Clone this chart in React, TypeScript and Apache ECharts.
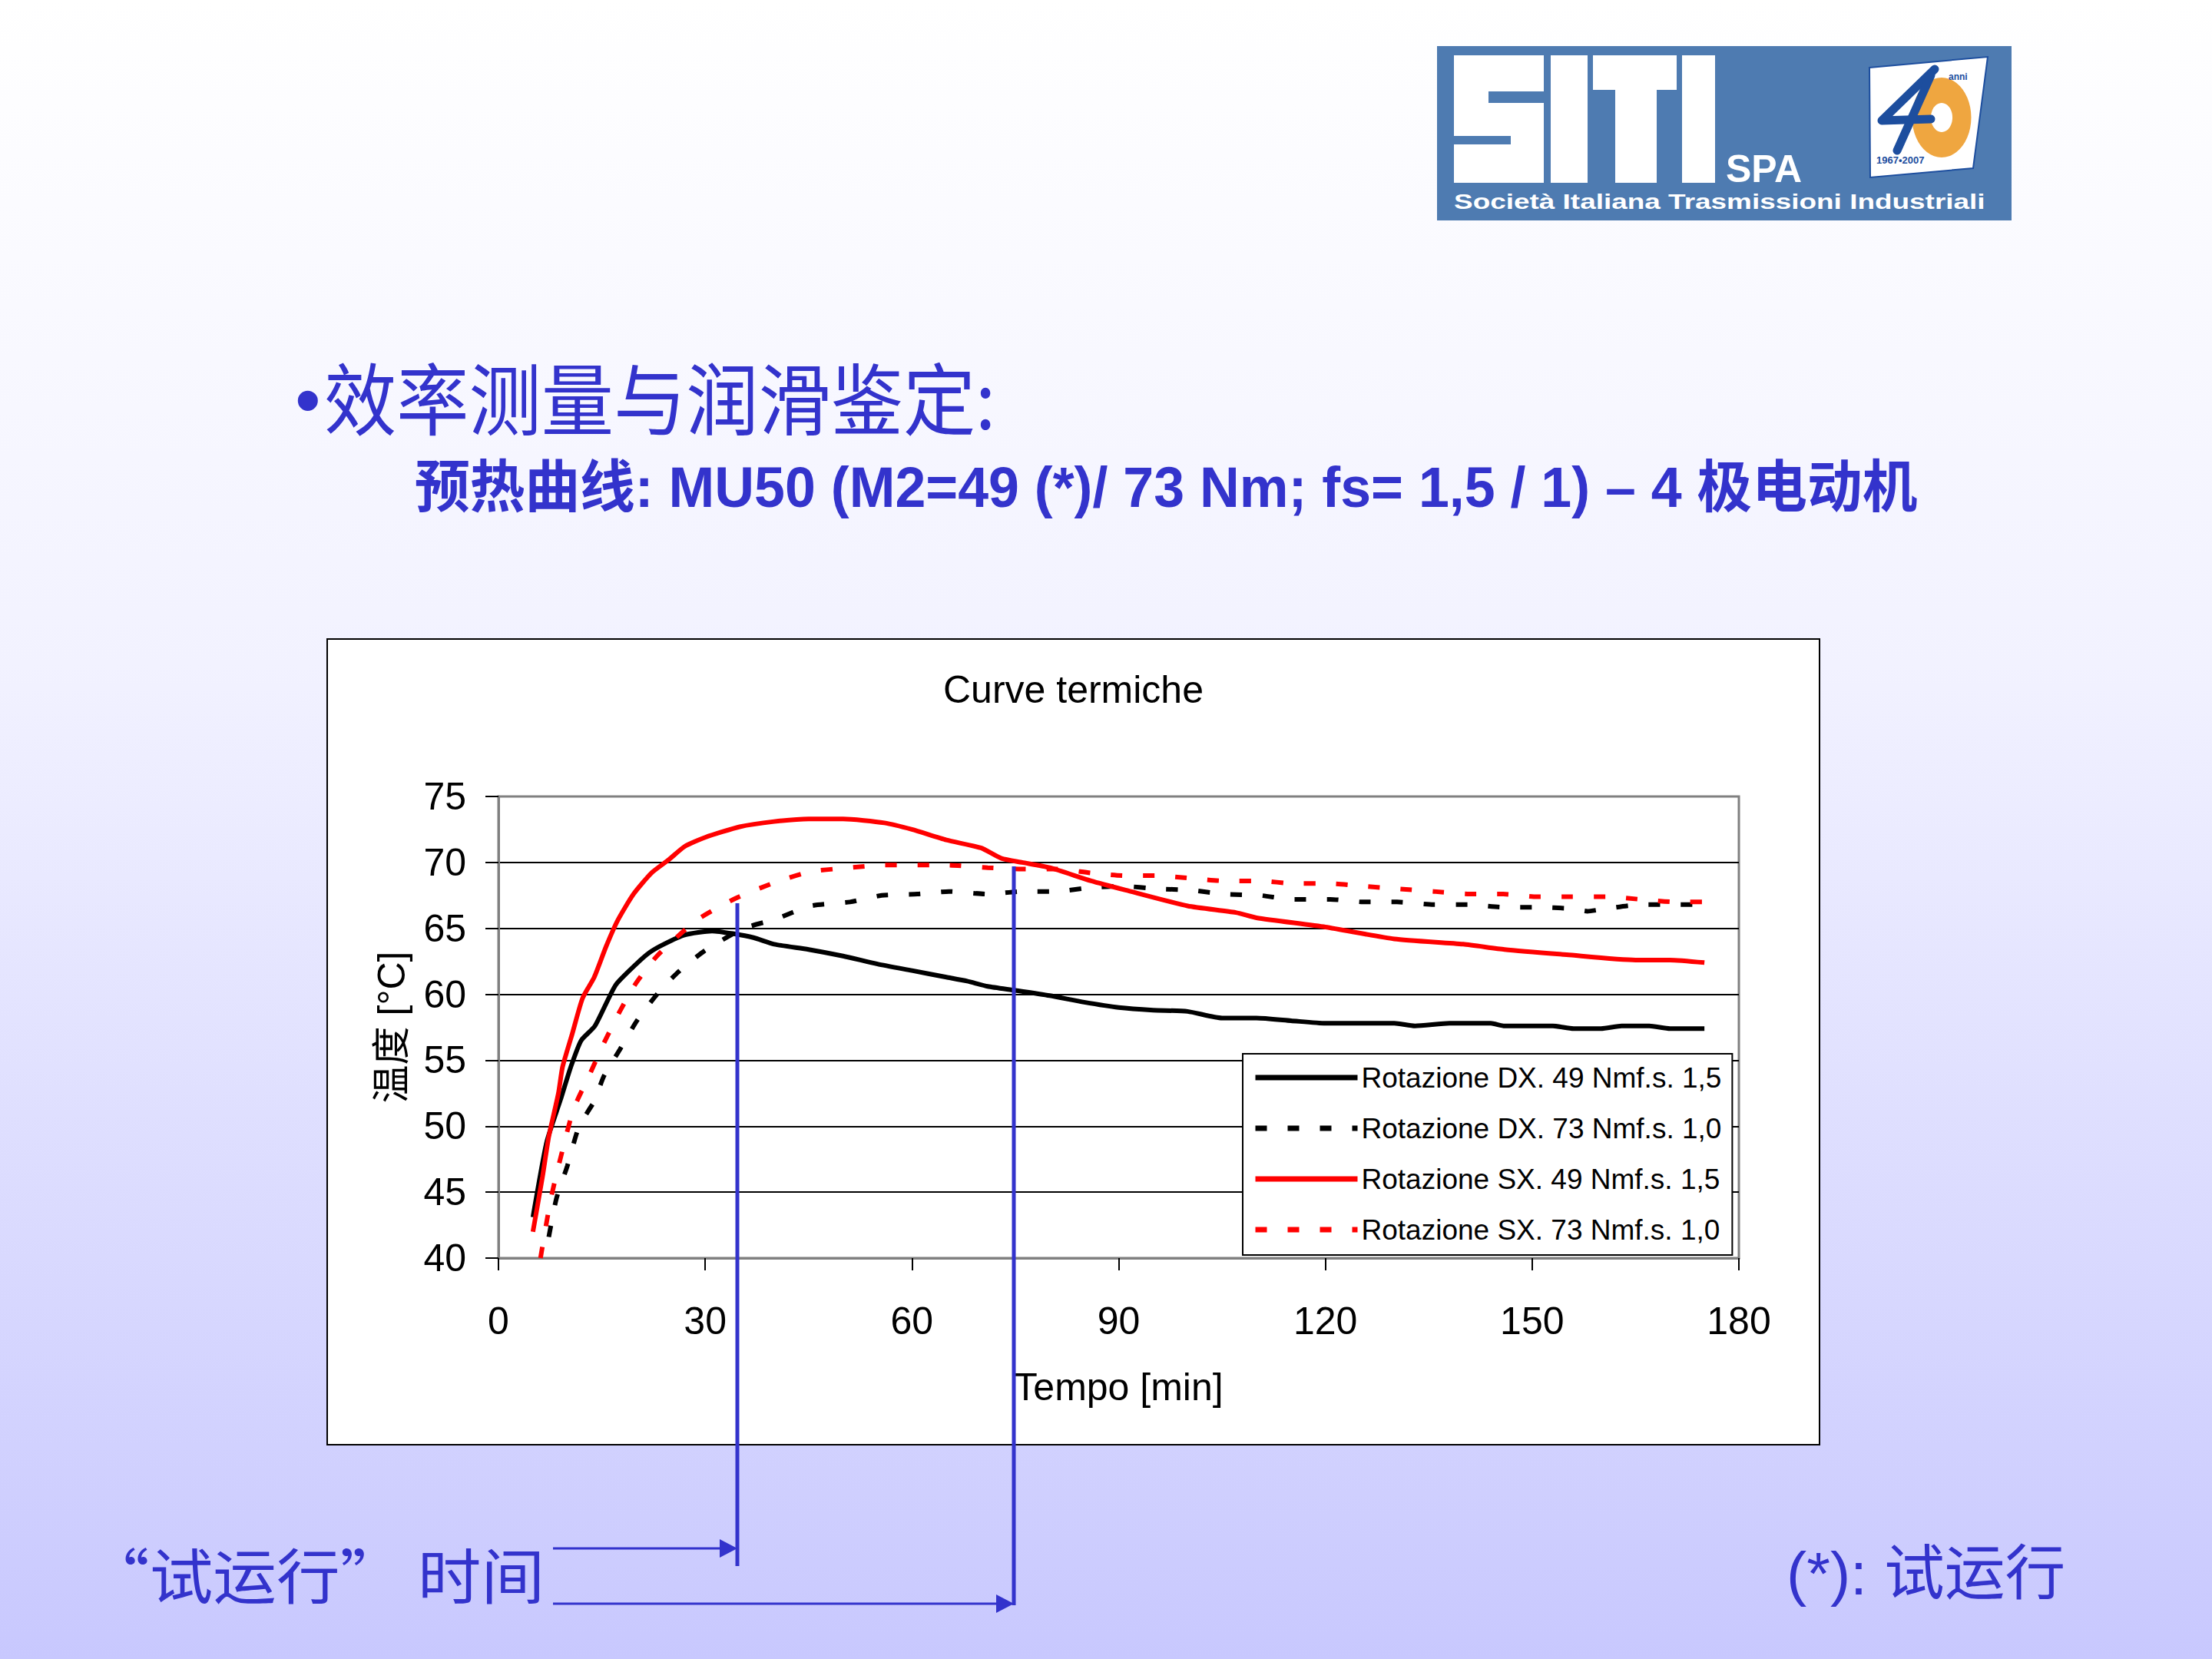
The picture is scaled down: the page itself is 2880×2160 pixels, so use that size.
import React, { useEffect, useRef } from "react";
import * as echarts from "echarts";

// ---------- data ----------
const TIME_DX49 = [5, 7, 9, 10.5, 12, 14, 17, 20, 22, 24, 27, 31, 34, 37, 40, 45, 50, 55, 60, 65, 68, 71, 75, 80, 85, 90, 95, 100, 105, 110, 115, 120, 125, 130, 133, 138, 144, 146, 153, 156, 160, 163, 167, 170, 175];
const TEMP_DX49 = [43.1, 48.8, 52.0, 54.5, 56.5, 57.6, 60.7, 62.3, 63.2, 63.8, 64.5, 64.8, 64.6, 64.3, 63.8, 63.4, 62.9, 62.3, 61.8, 61.3, 61.0, 60.6, 60.3, 59.9, 59.4, 59.0, 58.8, 58.7, 58.2, 58.2, 58.0, 57.8, 57.8, 57.8, 57.6, 57.8, 57.8, 57.6, 57.6, 57.4, 57.4, 57.6, 57.6, 57.4, 57.4];

const TIME_DX73 = [7.3, 8.4, 10, 11.7, 13.9, 15.3, 17.6, 20.1, 23, 25.9, 29.9, 35.6, 40.2, 45.3, 51, 55.6, 60.8, 65.4, 71, 76, 81, 86, 90.6, 95.5, 100.4, 105.3, 110.5, 115.4, 120.7, 125.5, 130.4, 135.7, 140.9, 145.8, 150.7, 155.6, 158, 160.8, 165.7, 170.9, 175];
const TEMP_DX73 = [41.6, 44.5, 47.0, 50.0, 51.9, 53.8, 55.8, 58.0, 60.0, 61.6, 63.3, 65.0, 65.7, 66.7, 67.0, 67.5, 67.6, 67.8, 67.6, 67.8, 67.8, 68.1, 68.2, 68.0, 67.9, 67.6, 67.5, 67.2, 67.2, 67.0, 67.0, 66.8, 66.8, 66.6, 66.6, 66.5, 66.3, 66.5, 66.8, 66.8, 66.8];

const TIME_SX49 = [5, 6.4, 7.3, 8.7, 9.3, 10.7, 12.2, 13.9, 15.6, 17.3, 19.6, 22.2, 24.7, 27, 30, 35, 40, 45, 50, 56, 60, 65, 70, 73, 76, 80, 86, 91, 100, 107, 110, 120, 130, 140, 146, 155, 165, 170, 175];
const TEMP_SX49 = [42.0, 46.2, 49.2, 52.5, 54.5, 57.0, 59.7, 61.3, 63.6, 65.6, 67.6, 69.2, 70.2, 71.2, 71.9, 72.7, 73.1, 73.3, 73.3, 73.0, 72.5, 71.7, 71.1, 70.3, 70.0, 69.6, 68.6, 67.9, 66.7, 66.2, 65.8, 65.1, 64.2, 63.8, 63.4, 63.0, 62.6, 62.6, 62.4];

const TIME_SX73 = [6.1, 7.6, 9.3, 10.9, 13.3, 15.3, 17.6, 19.9, 23, 28.7, 34.5, 40.2, 45.3, 51, 56, 65, 71, 76, 81, 86, 91, 95.5, 100.4, 105.3, 110.5, 115.4, 120.7, 125.5, 130.4, 135.7, 140.9, 145.8, 150.7, 155.6, 160.8, 165.7, 170.9, 175];
const TEMP_SX73 = [40.0, 44.5, 48.2, 51.3, 54.0, 56.3, 58.7, 60.8, 62.9, 65.6, 67.3, 68.5, 69.3, 69.6, 69.8, 69.8, 69.6, 69.5, 69.5, 69.2, 69.0, 69.0, 68.8, 68.6, 68.6, 68.4, 68.4, 68.2, 68.0, 67.8, 67.6, 67.6, 67.4, 67.4, 67.4, 67.2, 67.0, 67.0];

const SERIES_NAMES = [
  "Rotazione DX. 49 Nmf.s. 1,5",
  "Rotazione DX. 73 Nmf.s. 1,0",
  "Rotazione SX. 49 Nmf.s. 1,5",
  "Rotazione SX. 73 Nmf.s. 1,0",
];

const X_MIN = 0;
const X_MAX = 180;
const X_STEP = 30;
const Y_MIN = 40;
const Y_MAX = 75;
const Y_STEP = 5;

const CHART_TITLE = "Curve termiche";
const X_NAME = "Tempo [min]";
const Y_NAME = "温度 [°C]";
const BULLET = "•";
const HEADING = "效率测量与润滑鉴定:";
const SUBHEADING = "预热曲线: MU50 (M2=49 (*)/ 73 Nm; fs= 1,5 / 1) – 4 极电动机";
const NOTE_LEFT = "“试运行” 时间";
const NOTE_RIGHT = "(*): 试运行";
const LOGO_SPA = "SPA";
const LOGO_LINE = "Società Italiana Trasmissioni Industriali";
const LOGO_ANNI = "anni";
const LOGO_YEARS = "1967•2007";

// ---------- styles ----------
const LATIN = "'Liberation Sans', Arial, 'Noto Sans CJK SC', sans-serif";
const CJK = "'Noto Sans CJK SC', 'Liberation Sans', sans-serif";
const BLUE = "#3333CC";
const LOGO_BG = "#4E7BB1";
const LOGO_DARK = "#1D4E9E";

function zip(t: number[], v: number[]) {
  return t.map((x, i) => [x, v[i]]);
}

function fitScale(text: string, font: string, target: number) {
  try {
    const ctx = document.createElement("canvas").getContext("2d");
    if (!ctx) return 1;
    ctx.font = font;
    const w = ctx.measureText(text).width;
    return w > 0 ? target / w : 1;
  } catch (e) {
    return 1;
  }
}

function txt(
  text: string,
  x: number,
  y: number,
  size: number,
  family: string,
  fill: string,
  weight: string = "normal",
  scaleX: number = 1,
  z: number = 10
) {
  return {
    type: "text",
    x,
    y,
    scaleX,
    z,
    silent: true,
    style: {
      text,
      fontSize: size,
      fontFamily: family,
      fontWeight: weight,
      fill,
      align: "left",
      verticalAlign: "middle",
    },
  };
}

function rect(x: number, y: number, w: number, h: number, fill: string, z = 5, extra: any = {}) {
  return { type: "rect", z, silent: true, shape: { x, y, width: w, height: h }, style: { fill, ...extra } };
}

function buildOption() {
  const subScale = fitScale(SUBHEADING, `bold 74px 'Liberation Sans', 'Noto Sans CJK SC'`, 1957);
  const headScale = fitScale(HEADING, `104px 'Noto Sans CJK SC'`, 892);
  const logoScale = fitScale(LOGO_LINE, `bold 27px 'Liberation Sans'`, 692);

  const lineSeries = (name: string, data: number[][], color: string, dashed: boolean, z: number) => ({
    name,
    type: "line",
    data,
    symbol: "none",
    showSymbol: false,
    smooth: 0.2,
    silent: true,
    z,
    itemStyle: { color },
    lineStyle: { color, width: 6, type: dashed ? [15, 27] : "solid", cap: "butt" },
    emphasis: { disabled: true },
  });

  const graphics: any[] = [
    // slide background
    {
      type: "rect",
      z: -100,
      silent: true,
      shape: { x: 0, y: 0, width: 2880, height: 2160 },
      style: {
        fill: {
          type: "linear",
          x: 0,
          y: 0,
          x2: 0,
          y2: 1,
          colorStops: [
            { offset: 0, color: "#FFFFFF" },
            { offset: 0.4, color: "#F2F2FF" },
            { offset: 1, color: "#C8C8FE" },
          ],
        },
      },
    },
    // chart frame
    {
      type: "rect",
      z: -90,
      silent: true,
      shape: { x: 426, y: 832, width: 1943, height: 1049 },
      style: { fill: "#FFFFFF", stroke: "#000000", lineWidth: 2 },
    },
    // logo
    rect(1871, 60, 748, 227, LOGO_BG, 5),
    rect(1893, 72, 117, 166, "#FFFFFF", 6),
    rect(1938, 119, 72, 15, LOGO_BG, 7),
    rect(1893, 177, 74, 11, LOGO_BG, 7),
    rect(2019, 72, 48, 166, "#FFFFFF", 6),
    rect(2074, 72, 109, 45, "#FFFFFF", 6),
    rect(2103, 117, 54, 121, "#FFFFFF", 6),
    rect(2190, 72, 43, 166, "#FFFFFF", 6),
    txt(LOGO_SPA, 2247, 220, 50, LATIN, "#FFFFFF", "bold", 1, 6),
    txt(LOGO_LINE, 1893, 263, 27, LATIN, "#FFFFFF", "bold", logoScale, 6),
    {
      type: "polygon",
      z: 6,
      silent: true,
      shape: { points: [[2434, 88], [2588, 74], [2569, 219], [2435, 231]] },
      style: { fill: "#FFFFFF", stroke: LOGO_DARK, lineWidth: 2 },
    },
    {
      type: "ring",
      z: 7,
      silent: true,
      x: 2528,
      y: 153,
      scaleX: 0.74,
      shape: { cx: 0, cy: 0, r: 52, r0: 19 },
      style: { fill: "#EFA640" },
    },
    {
      type: "polyline",
      z: 8,
      silent: true,
      shape: { points: [[2519, 90], [2450, 157], [2514, 155]] },
      style: { stroke: LOGO_DARK, lineWidth: 11, fill: null, lineJoin: "round", lineCap: "round" },
    },
    {
      type: "line",
      z: 8,
      silent: true,
      shape: { x1: 2514, y1: 98, x2: 2470, y2: 196 },
      style: { stroke: LOGO_DARK, lineWidth: 11, lineCap: "round" },
    },
    txt(LOGO_ANNI, 2537, 100, 12, LATIN, LOGO_DARK, "bold", 1, 8),
    txt(LOGO_YEARS, 2443, 208, 13, LATIN, LOGO_DARK, "bold", 1, 8),
    // headings
    txt(BULLET, 384, 520, 96, LATIN, BLUE, "normal"),
    txt(HEADING, 422, 514, 102, CJK, BLUE, "normal", headScale),
    txt(SUBHEADING, 540, 634, 74, LATIN, BLUE, "bold", subScale),
    // notes at the bottom
    txt(NOTE_LEFT, 112, 2048, 78, CJK, BLUE, "normal", 1.06),
    txt(NOTE_RIGHT, 2326, 2049, 78, LATIN, BLUE, "normal", 1.01),
    // annotation lines and arrows
    { type: "line", z: 100, silent: true, shape: { x1: 960, y1: 1176, x2: 960, y2: 2039 }, style: { stroke: BLUE, lineWidth: 5 } },
    { type: "line", z: 100, silent: true, shape: { x1: 1320, y1: 1128, x2: 1320, y2: 2090 }, style: { stroke: BLUE, lineWidth: 5 } },
    { type: "line", z: 100, silent: true, shape: { x1: 720, y1: 2016, x2: 940, y2: 2016 }, style: { stroke: BLUE, lineWidth: 3 } },
    { type: "polygon", z: 100, silent: true, shape: { points: [[937, 2004], [960, 2016], [937, 2028]] }, style: { fill: BLUE } },
    { type: "line", z: 100, silent: true, shape: { x1: 720, y1: 2088, x2: 1300, y2: 2088 }, style: { stroke: BLUE, lineWidth: 3 } },
    { type: "polygon", z: 100, silent: true, shape: { points: [[1297, 2076], [1320, 2088], [1297, 2100]] }, style: { fill: BLUE } },
  ];

  const axisText = { fontSize: 50, fontFamily: LATIN, color: "#000000" };

  return {
    animation: false,
    title: {
      text: CHART_TITLE,
      left: 1228,
      top: 873,
      padding: 0,
      textStyle: { fontSize: 50, fontWeight: "normal", fontFamily: LATIN, color: "#000000" },
    },
    grid: {
      left: 649,
      top: 1037,
      width: 1615,
      height: 601,
      show: true,
      borderColor: "#808080",
      borderWidth: 3,
      backgroundColor: "transparent",
    },
    legend: {
      orient: "vertical",
      left: 1618,
      top: 1372,
      padding: [12, 14, 14, 13],
      itemGap: 28,
      itemWidth: 133,
      itemHeight: 20,
      backgroundColor: "#FFFFFF",
      borderColor: "#000000",
      borderWidth: 2,
      borderRadius: 0,
      selectedMode: false,
      data: SERIES_NAMES,
      itemStyle: { opacity: 0 },
      lineStyle: { width: 7 },
      textStyle: { fontSize: 37, fontFamily: LATIN, color: "#000000", lineHeight: 38 },
    },
    xAxis: {
      type: "value",
      min: X_MIN,
      max: X_MAX,
      interval: X_STEP,
      name: X_NAME,
      nameLocation: "middle",
      nameGap: 143,
      nameTextStyle: axisText,
      axisLine: { show: true, lineStyle: { color: "#808080", width: 3 } },
      axisTick: { show: true, inside: false, length: 16, lineStyle: { color: "#000000", width: 2 } },
      axisLabel: { ...axisText, margin: 57 },
      splitLine: { show: false },
    },
    yAxis: {
      type: "value",
      min: Y_MIN,
      max: Y_MAX,
      interval: Y_STEP,
      name: Y_NAME,
      nameLocation: "middle",
      nameRotate: 90,
      nameGap: 114,
      nameTextStyle: axisText,
      axisLine: { show: true, lineStyle: { color: "#808080", width: 3 } },
      axisTick: { show: true, inside: false, length: 17, lineStyle: { color: "#000000", width: 2 } },
      axisLabel: { ...axisText, margin: 42 },
      splitLine: { show: true, showMinLine: false, showMaxLine: false, lineStyle: { color: "#000000", width: 2 } },
    },
    series: [
      lineSeries(SERIES_NAMES[0], zip(TIME_DX49, TEMP_DX49), "#000000", false, 3),
      lineSeries(SERIES_NAMES[1], zip(TIME_DX73, TEMP_DX73), "#000000", true, 3),
      lineSeries(SERIES_NAMES[2], zip(TIME_SX49, TEMP_SX49), "#FF0000", false, 3),
      lineSeries(SERIES_NAMES[3], zip(TIME_SX73, TEMP_SX73), "#FF0000", true, 3),
    ],
    graphic: { elements: graphics },
  };
}

export default function App() {
  const ref = useRef<HTMLDivElement>(null);
  useEffect(() => {
    if (!ref.current) return;
    const chart = echarts.init(ref.current, undefined, { renderer: "svg", width: 2880, height: 2160 });
    chart.setOption(buildOption() as any);
    return () => {
      chart.dispose();
    };
  }, []);
  return (
    <div
      ref={ref}
      style={{ position: "absolute", left: 0, top: 0, width: 2880, height: 2160 }}
    />
  );
}
